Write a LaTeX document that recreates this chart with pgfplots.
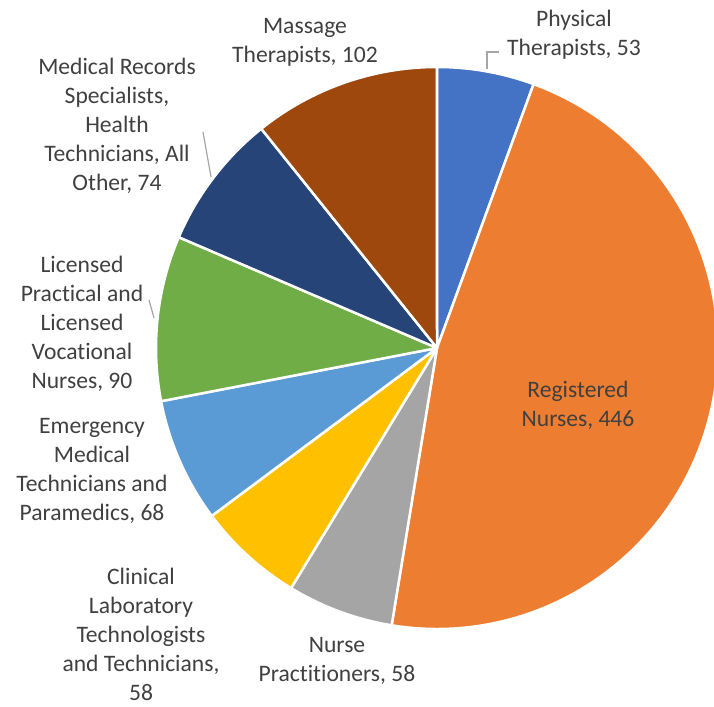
\documentclass[border=0pt]{standalone}
\usepackage{pgfplots}
\pgfplotsset{compat=1.18}
\usepackage{pgfplotstable}
\usepackage{fontspec}
\setmainfont[Ligatures=NoCommon]{Carlito}

\definecolor{pBlue}{HTML}{4472C4}
\definecolor{pOrange}{HTML}{ED7D31}
\definecolor{pGrey}{HTML}{A5A5A5}
\definecolor{pGold}{HTML}{FFC000}
\definecolor{pLBlue}{HTML}{5B9BD5}
\definecolor{pGreen}{HTML}{70AD47}
\definecolor{pNavy}{HTML}{264478}
\definecolor{pBrown}{HTML}{9E480E}
\definecolor{labInk}{HTML}{404040}
\definecolor{leader}{HTML}{A6A6A6}

% occupations, clockwise from 12 o'clock
\pgfplotstableread{
value color
53  pBlue
446 pOrange
58  pGrey
58  pGold
68  pLBlue
90  pGreen
74  pNavy
102 pBrown
}\piedata

\def\pieR{281}
\tikzset{lab/.style={font=\fontsize{23.6}{29}\selectfont, text=labInk, align=center, inner sep=0pt}}

\begin{document}
\begin{tikzpicture}
  % total and slice angles
  \def\tot{0}
  \pgfplotsforeachungrouped \i in {0,...,7}{%
    \pgfplotstablegetelem{\i}{value}\of\piedata
    \pgfmathsetmacro\tot{\tot+\pgfplotsretval}%
  }
  \def\cum{90}
  \pgfplotsforeachungrouped \i in {0,...,7}{%
    \pgfplotstablegetelem{\i}{value}\of\piedata
    \pgfmathsetmacro\wdg{\pgfplotsretval/\tot*360}%
    \expandafter\xdef\csname sa\i\endcsname{\cum}%
    \pgfmathsetmacro\cum{\cum-\wdg}%
    \expandafter\xdef\csname ea\i\endcsname{\cum}%
    \pgfplotstablegetelem{\i}{color}\of\piedata
    \expandafter\xdef\csname col\i\endcsname{\pgfplotsretval}%
  }
  \useasboundingbox (0,0) rectangle (714pt,706pt);
  \begin{axis}[
    x=1pt, y=1pt,
    xmin=-437, xmax=277,
    ymin=-358, ymax=348,
    hide axis,
    clip=true
  ]
    \pgfplotsinvokeforeach{0,...,7}{
      \filldraw[fill=\csname col#1\endcsname, draw=white, line width=2.5pt, line join=round]
        (axis cs:0,0) -- ++(\csname sa#1\endcsname:\pieR pt)
        arc[start angle=\csname sa#1\endcsname, end angle=\csname ea#1\endcsname, radius=\pieR pt]
        -- cycle;
    }
    % leader lines
    \draw[leader, line width=1.2pt] (axis cs:50,279) -- (axis cs:50,296) -- (axis cs:62,296);
    \draw[leader, line width=1.2pt] (axis cs:-234,216) -- (axis cs:-226,171);
    \draw[leader, line width=1.2pt] (axis cs:-288,48) -- (axis cs:-283,30);
    % labels
    \node[lab] at (axis cs:137,313) {Physical\\Therapists, 53};
    \node[lab] at (axis cs:141,-57) {Registered\\Nurses, 446};
    \node[lab] at (axis cs:-100,-313) {Nurse\\Practitioners, 58};
    \node[lab] at (axis cs:-296,-286) {Clinical\\Laboratory\\Technologists\\and Technicians,\\58};
    \node[lab] at (axis cs:-345,-123) {Emergency\\Medical\\Technicians and\\Paramedics, 68};
    \node[lab] at (axis cs:-355,24) {Licensed\\Practical and\\Licensed\\Vocational\\Nurses, 90};
    \node[lab] at (axis cs:-320,222) {Medical Records\\Specialists,\\Health\\Technicians, All\\Other, 74};
    \node[lab] at (axis cs:-132,306) {Massage\\Therapists, 102};
  \end{axis}
\end{tikzpicture}
\end{document}
